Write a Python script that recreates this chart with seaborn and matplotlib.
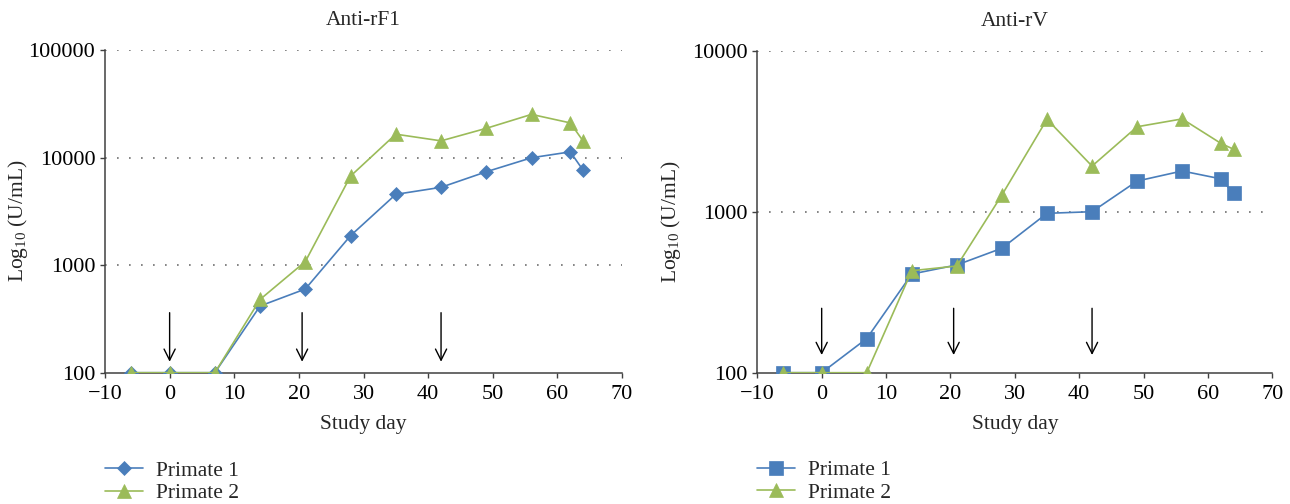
import numpy as np
import pandas as pd
import matplotlib
matplotlib.use("Agg")
import matplotlib.pyplot as plt
from matplotlib.ticker import FixedLocator, NullLocator, FuncFormatter
import seaborn as sns

# ---------------- data ----------------
days = [-6, 0, 7, 14, 21, 28, 35, 42, 49, 56, 62, 64]
f1_primate1 = [100, 100, 100, 417, 600, 1880, 4550, 5290, 7380, 9960, 11300, 7600]
f1_primate2 = [100, 100, 100, 480, 1080, 6730, 16500, 14300, 18700, 25200, 21000, 14200]
v_primate1 = [100, 100, 163, 410, 467, 593, 977, 1000, 1550, 1790, 1600, 1300]
v_primate2 = [100, 100, 100, 430, 460, 1270, 3750, 1920, 3370, 3770, 2660, 2440]
vaccination_days = [0, 20.5, 42]
x_ticks = [-10, 0, 10, 20, 30, 40, 50, 60, 70]
f1_yticks = [100, 1000, 10000, 100000]
v_yticks = [100, 1000, 10000]
series_names = ["Primate 1", "Primate 2"]
titles = ["Anti-rF1", "Anti-rV"]

BLUE = "#4a7ebb"
GREEN = "#9bbb59"
AXC = "#404040"

sns.set_theme(style="white")
plt.rcParams["font.family"] = ["Liberation Serif", "DejaVu Serif"]
plt.rcParams["mathtext.fontset"] = "custom"
plt.rcParams["mathtext.rm"] = "Liberation Serif"
plt.rcParams["mathtext.it"] = "Liberation Serif:italic"
plt.rcParams["axes.unicode_minus"] = True

FS = 15.5
TFS = 16

fig = plt.figure(figsize=(12.9, 5.04), dpi=100)
ax1 = fig.add_axes([105 / 1290, 1 - 372.7 / 504, (622 - 105) / 1290, (372.7 - 50) / 504])
ax2 = fig.add_axes([757.3 / 1290, 1 - 372.7 / 504, (1272.3 - 757.3) / 1290, (372.7 - 50.7) / 504])


def draw(ax, s1, s2, m1, ms1, yticks, title, arrow_top, arrow_bot):
    df = pd.DataFrame({"day": days, "p1": s1, "p2": s2})
    sns.lineplot(data=df, x="day", y="p1", ax=ax, color=BLUE, lw=1.2,
                 marker=m1, markersize=ms1, markeredgecolor=BLUE,
                 markeredgewidth=0.5, label=series_names[0], zorder=3)
    sns.lineplot(data=df, x="day", y="p2", ax=ax, color=GREEN, lw=1.2,
                 marker="^", markersize=9.5, markeredgecolor=GREEN,
                 markeredgewidth=0.5, label=series_names[1], zorder=4)
    ax.set_yscale("log")
    ax.set_xlim(-10, 70)
    ax.set_ylim(yticks[0], yticks[-1])
    ax.xaxis.set_major_locator(FixedLocator(x_ticks))
    ax.yaxis.set_major_locator(FixedLocator(yticks))
    ax.yaxis.set_minor_locator(NullLocator())
    ax.xaxis.set_minor_locator(NullLocator())
    ax.yaxis.set_major_formatter(FuncFormatter(lambda v, p: f"{int(round(v))}"))
    ax.xaxis.set_major_formatter(FuncFormatter(lambda v, p: f"{int(v)}".replace("-", "\u2212")))
    for sp in ["top", "right"]:
        ax.spines[sp].set_visible(False)
    for sp in ["left", "bottom"]:
        ax.spines[sp].set_color(AXC)
        ax.spines[sp].set_linewidth(1.1)
    ax.tick_params(axis="both", direction="out", length=3.5, width=1.0, color=AXC,
                   labelsize=TFS, labelcolor="black")
    ax.tick_params(axis="x", bottom=True, pad=5.5)
    ax.tick_params(axis="y", left=True, pad=3.5)
    ax.grid(False)
    for yt in yticks[1:]:
        ax.axhline(yt, color="#6f6f6f", lw=1.2, ls=(0, (1, 6.2)), zorder=1)
    ax.set_xlabel("Study day", fontsize=FS, labelpad=8)
    ax.set_ylabel("Log$_{10}$ (U/mL)", fontsize=FS)
    ax.yaxis.set_label_coords(-0.145, 0.47)
    ax.set_title(title, fontsize=FS, pad=18)
    for d in vaccination_days:
        ax.annotate("", xy=(d, arrow_bot), xytext=(d, arrow_top),
                    xycoords=("data", "axes fraction"), textcoords=("data", "axes fraction"),
                    arrowprops=dict(arrowstyle="->", color="black", lw=1.0,
                                    mutation_scale=20, shrinkA=0, shrinkB=0), zorder=5)
    leg = ax.legend(loc="upper left", bbox_to_anchor=(0.0, -0.272), frameon=False,
                    fontsize=FS, handlelength=1.75, handletextpad=0.6,
                    labelspacing=0.12, borderaxespad=0, borderpad=0)
    return leg


draw(ax1, f1_primate1, f1_primate2, "D", 7.5, f1_yticks, titles[0], 0.186, 0.034)
draw(ax2, v_primate1, v_primate2, "s", 9.5, v_yticks, titles[1], 0.2, 0.055)

fig.savefig("out.png", dpi=100)
